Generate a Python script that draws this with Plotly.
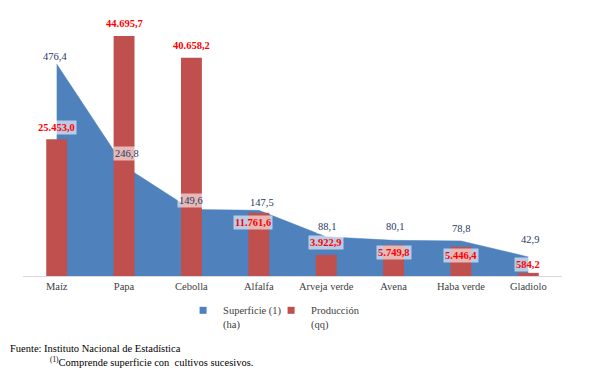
import plotly.graph_objects as go

categories = ["Maíz", "Papa", "Cebolla", "Alfalfa", "Arveja verde", "Avena", "Haba verde", "Gladiolo"]
superficie = [476.4, 246.8, 149.6, 147.5, 88.1, 80.1, 78.8, 42.9]
produccion = [25453.0, 44695.7, 40658.2, 11761.6, 3922.9, 5749.8, 5446.4, 584.2]
series_names = ["Superficie (1)<br>(ha)", "Producción<br>(qq)"]

# label offsets (style only, pixels)
sup_yshift = [7, 13, 9, 8, 10, 14, 12, 17]
sup_xshift = [-2, 3, 0, 3, 1, 1, 0, 2]
prod_yshift = [12, 12, 12, -10, 12, -7, -9, 8]
prod_xshift = [0, 0, 0, -6, 0, 0, 0, 0]

BLUE = "#4F81BD"
RED = "#C0504D"
FONT = "Liberation Serif"


def es(v):
    s = f"{v:,.1f}"
    return s.replace(",", "X").replace(".", ",").replace("X", ".")


fig = go.Figure()
fig.add_trace(go.Scatter(
    x=categories, y=superficie, mode="lines", fill="tozeroy",
    line=dict(color=BLUE, width=0.5), fillcolor=BLUE,
    name=series_names[0], yaxis="y", showlegend=False,
))
fig.add_trace(go.Bar(
    x=categories, y=produccion, marker=dict(color=RED, line=dict(width=0)),
    name=series_names[1], yaxis="y2", showlegend=False,
))
# legend keys (square markers, no data)
for nm, col in zip(series_names, [BLUE, RED]):
    fig.add_trace(go.Scatter(
        x=[None], y=[None], mode="markers", name=nm,
        marker=dict(symbol="square", size=7, color=col), showlegend=True,
    ))

ann = []
for c, v, dy, dx in zip(categories, superficie, sup_yshift, sup_xshift):
    ann.append(dict(x=c, y=v, xref="x", yref="y", text=es(v), showarrow=False,
                    yshift=dy, xshift=dx, bgcolor="rgba(255,255,255,0.6)", borderpad=1,
                    font=dict(family=FONT, size=10.5, color="#1F3864")))
for c, v, dy, dx in zip(categories, produccion, prod_yshift, prod_xshift):
    ann.append(dict(x=c, y=v, xref="x", yref="y2", text="<b>" + es(v) + "</b>", showarrow=False,
                    yshift=dy, xshift=dx, bgcolor="rgba(255,255,255,0.6)", borderpad=1,
                    font=dict(family=FONT, size=10.5, color="#FF0000")))

ann.append(dict(x=-0.028, y=-0.285, xref="paper", yref="paper", xanchor="left", yanchor="middle",
                text="Fuente: Instituto Nacional de Estadística", showarrow=False,
                font=dict(family=FONT, size=10.5, color="#000000")))
ann.append(dict(x=0.046, y=-0.335, xref="paper", yref="paper", xanchor="left", yanchor="middle",
                text="<sup>(1)</sup>Comprende superficie con  cultivos sucesivos.", showarrow=False,
                font=dict(family=FONT, size=10.5, color="#000000")))

fig.update_layout(
    width=589, height=373,
    margin=dict(l=23, r=27, t=20, b=97, autoexpand=False),
    paper_bgcolor="white", plot_bgcolor="white",
    bargap=0.69,
    showlegend=True,
    legend=dict(orientation="h", x=0.297, y=-0.082, xanchor="left", yanchor="top",
                valign="top", entrywidth=43, entrywidthmode="pixels",
                font=dict(family=FONT, size=10.5, color="#404040"),
                itemwidth=30, tracegroupgap=0, bgcolor="rgba(0,0,0,0)"),
    xaxis=dict(type="category", showgrid=False, showline=True, linecolor="#D9D9D9", linewidth=1,
               ticks="", tickfont=dict(family=FONT, size=10.5, color="#404040"), zeroline=False),
    yaxis=dict(range=[0, 575], visible=False, showgrid=False, zeroline=False),
    yaxis2=dict(range=[0, 47672], visible=False, showgrid=False, zeroline=False,
                overlaying="y", side="right"),
    annotations=ann,
)

fig.write_html("out.html", config={"displayModeBar": False},
               post_script="document.body.style.margin='0';document.body.style.padding='0';")
